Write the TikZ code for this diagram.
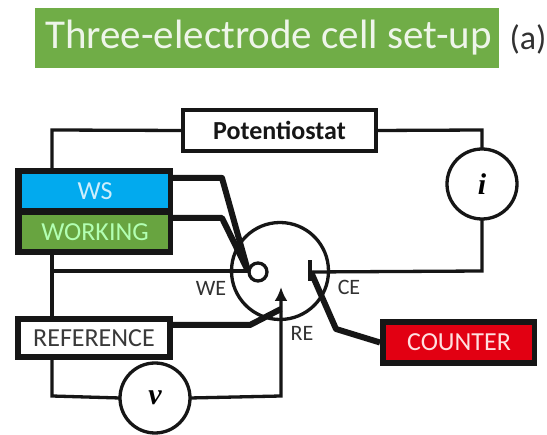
\documentclass[tikz,border=0pt]{standalone}
\usepackage{fontspec}
\setmainfont{Carlito}
\newfontfamily\mathser{Liberation Serif}
\usetikzlibrary{arrows.meta}
\definecolor{ttl}{RGB}{112,173,71}
\definecolor{wsblue}{RGB}{2,170,238}
\definecolor{wkgreen}{RGB}{104,164,64}
\definecolor{cred}{RGB}{226,0,18}
\definecolor{ink}{RGB}{22,22,22}
\definecolor{lbl}{RGB}{50,50,50}
\tikzset{
  px/.style={inner sep=0pt,outer sep=0pt},
  thin wire/.style={draw=ink,line width=3.3pt},
  thick wire/.style={draw=ink,line width=6pt,line join=round},
  cbox/.style={px,minimum width=#1,align=center,font=\fontsize{26}{28}\selectfont},
  ring/.style={px,circle,draw=ink,line width=3.3pt,fill=white},
  small label/.style={px,text=lbl,font=\fontsize{22}{24}\selectfont},
}
\begin{document}
\begin{tikzpicture}[x=1pt,y=-1pt]
\useasboundingbox (0,0) rectangle (547,435);
\fill[white] (0,0) rectangle (547,435);
% title
\node[px,fill=ttl,minimum width=464pt,minimum height=60pt] (title) at (267,38) {};
\node[px,text=white!88!ttl,font=\fontsize{41}{44}\selectfont] (titletext) at (268.5,38) {Three-electrode cell set-up};
\node[px,text=lbl,font=\fontsize{34}{36}\selectfont] (tag) at (528,39) {(a)};
% junctions
\coordinate (tl) at (52,130);
\coordinate (tr) at (482,130);
\coordinate (br) at (482,271);
\coordinate (wjoin) at (52,271);
\coordinate (vl) at (52,396);
\coordinate (vr) at (281,396);
\coordinate (wsk) at (222,178);
\coordinate (wkk) at (222,218);
\coordinate (wetip) at (248,271);
\coordinate (refk) at (250,325);
\coordinate (retip) at (281,309);
\coordinate (cek) at (336,329);
\coordinate (cetip) at (311,272);
\coordinate (ws out) at (173,178);
\coordinate (wk out) at (173,218);
\coordinate (ref out) at (173,325);
% thin wires behind
\node[ring,minimum size=97pt,fill=none] (cell) at (280,271) {};
\node[px,fill=ink,minimum width=158pt,minimum height=87pt] (frame) at (94,211.5) {};
\node[px,draw=ink,line width=6pt,fill=white,minimum width=152pt,minimum height=38pt,text=ink!85,font=\fontsize{26}{28}\selectfont] (ref) at (94,338) {REFERENCE};
\node[px,draw=ink,line width=3.3pt,fill=white,minimum width=193pt,minimum height=41pt,font=\bfseries\fontsize{26}{28}\selectfont,text=ink] (pot) at (279.5,130.5) {Potentiostat};
\node[ring,minimum size=70pt] (ammeter) at (482,184) {\mathser\fontsize{30}{32}\selectfont\bfseries\itshape i};
\node[ring,minimum size=70pt] (volt) at (155,398) {\mathser\fontsize{30}{32}\selectfont\bfseries\itshape v};
\draw[thin wire] (pot.west) -- (tl) -- (tl |- frame.north);
\draw[thin wire] (pot.east) -- (tr) -- (ammeter.north);
\draw[thin wire] (ammeter.south) -- (br) -- (cetip);
\draw[thin wire] (wjoin |- frame.south) -- (wjoin |- ref.north);
\draw[thin wire] (wjoin) -- (wetip);
\draw[thin wire] (wjoin |- ref.south) -- (vl) -- (volt.west);
\draw[thin wire,-{Latex[length=14pt,width=13pt]}] (volt.east) -- (vr) -- (281,287);
% coloured boxes
\node[cbox=146pt,fill=wsblue,minimum height=34pt,text=white!80!wsblue] (ws) at (95,191) {WS};
\node[cbox=146pt,fill=wkgreen,minimum height=34pt,text=white!70!green] (working) at (95,232) {WORKING};
\node[px,fill=ink,minimum width=157pt,minimum height=47pt] (cframe) at (458.5,342.5) {};
\node[cbox=146pt,fill=cred,minimum height=35pt,text=white!88!red] (counter) at (459,342.5) {COUNTER};
% thick wires
\draw[thick wire] (ws out) -- (wsk) -- (wetip);
\draw[thick wire] (wk out) -- (wkk) -- (wetip);
\draw[thick wire] (ref out) -- (refk) -- (retip);
\draw[thick wire] (cframe.west) -- (cek) -- (cetip);
% electrodes
\node[ring,minimum size=18pt] (we) at (258,272) {};
\node[px,fill=ink,minimum width=4.5pt,minimum height=21pt] (ce) at (310,270.5) {};
% labels
\node[small label] (welbl) at (211,288) {WE};
\node[small label] (relbl) at (302,333) {RE};
\node[small label] (celbl) at (349,287) {CE};
\end{tikzpicture}
\end{document}
